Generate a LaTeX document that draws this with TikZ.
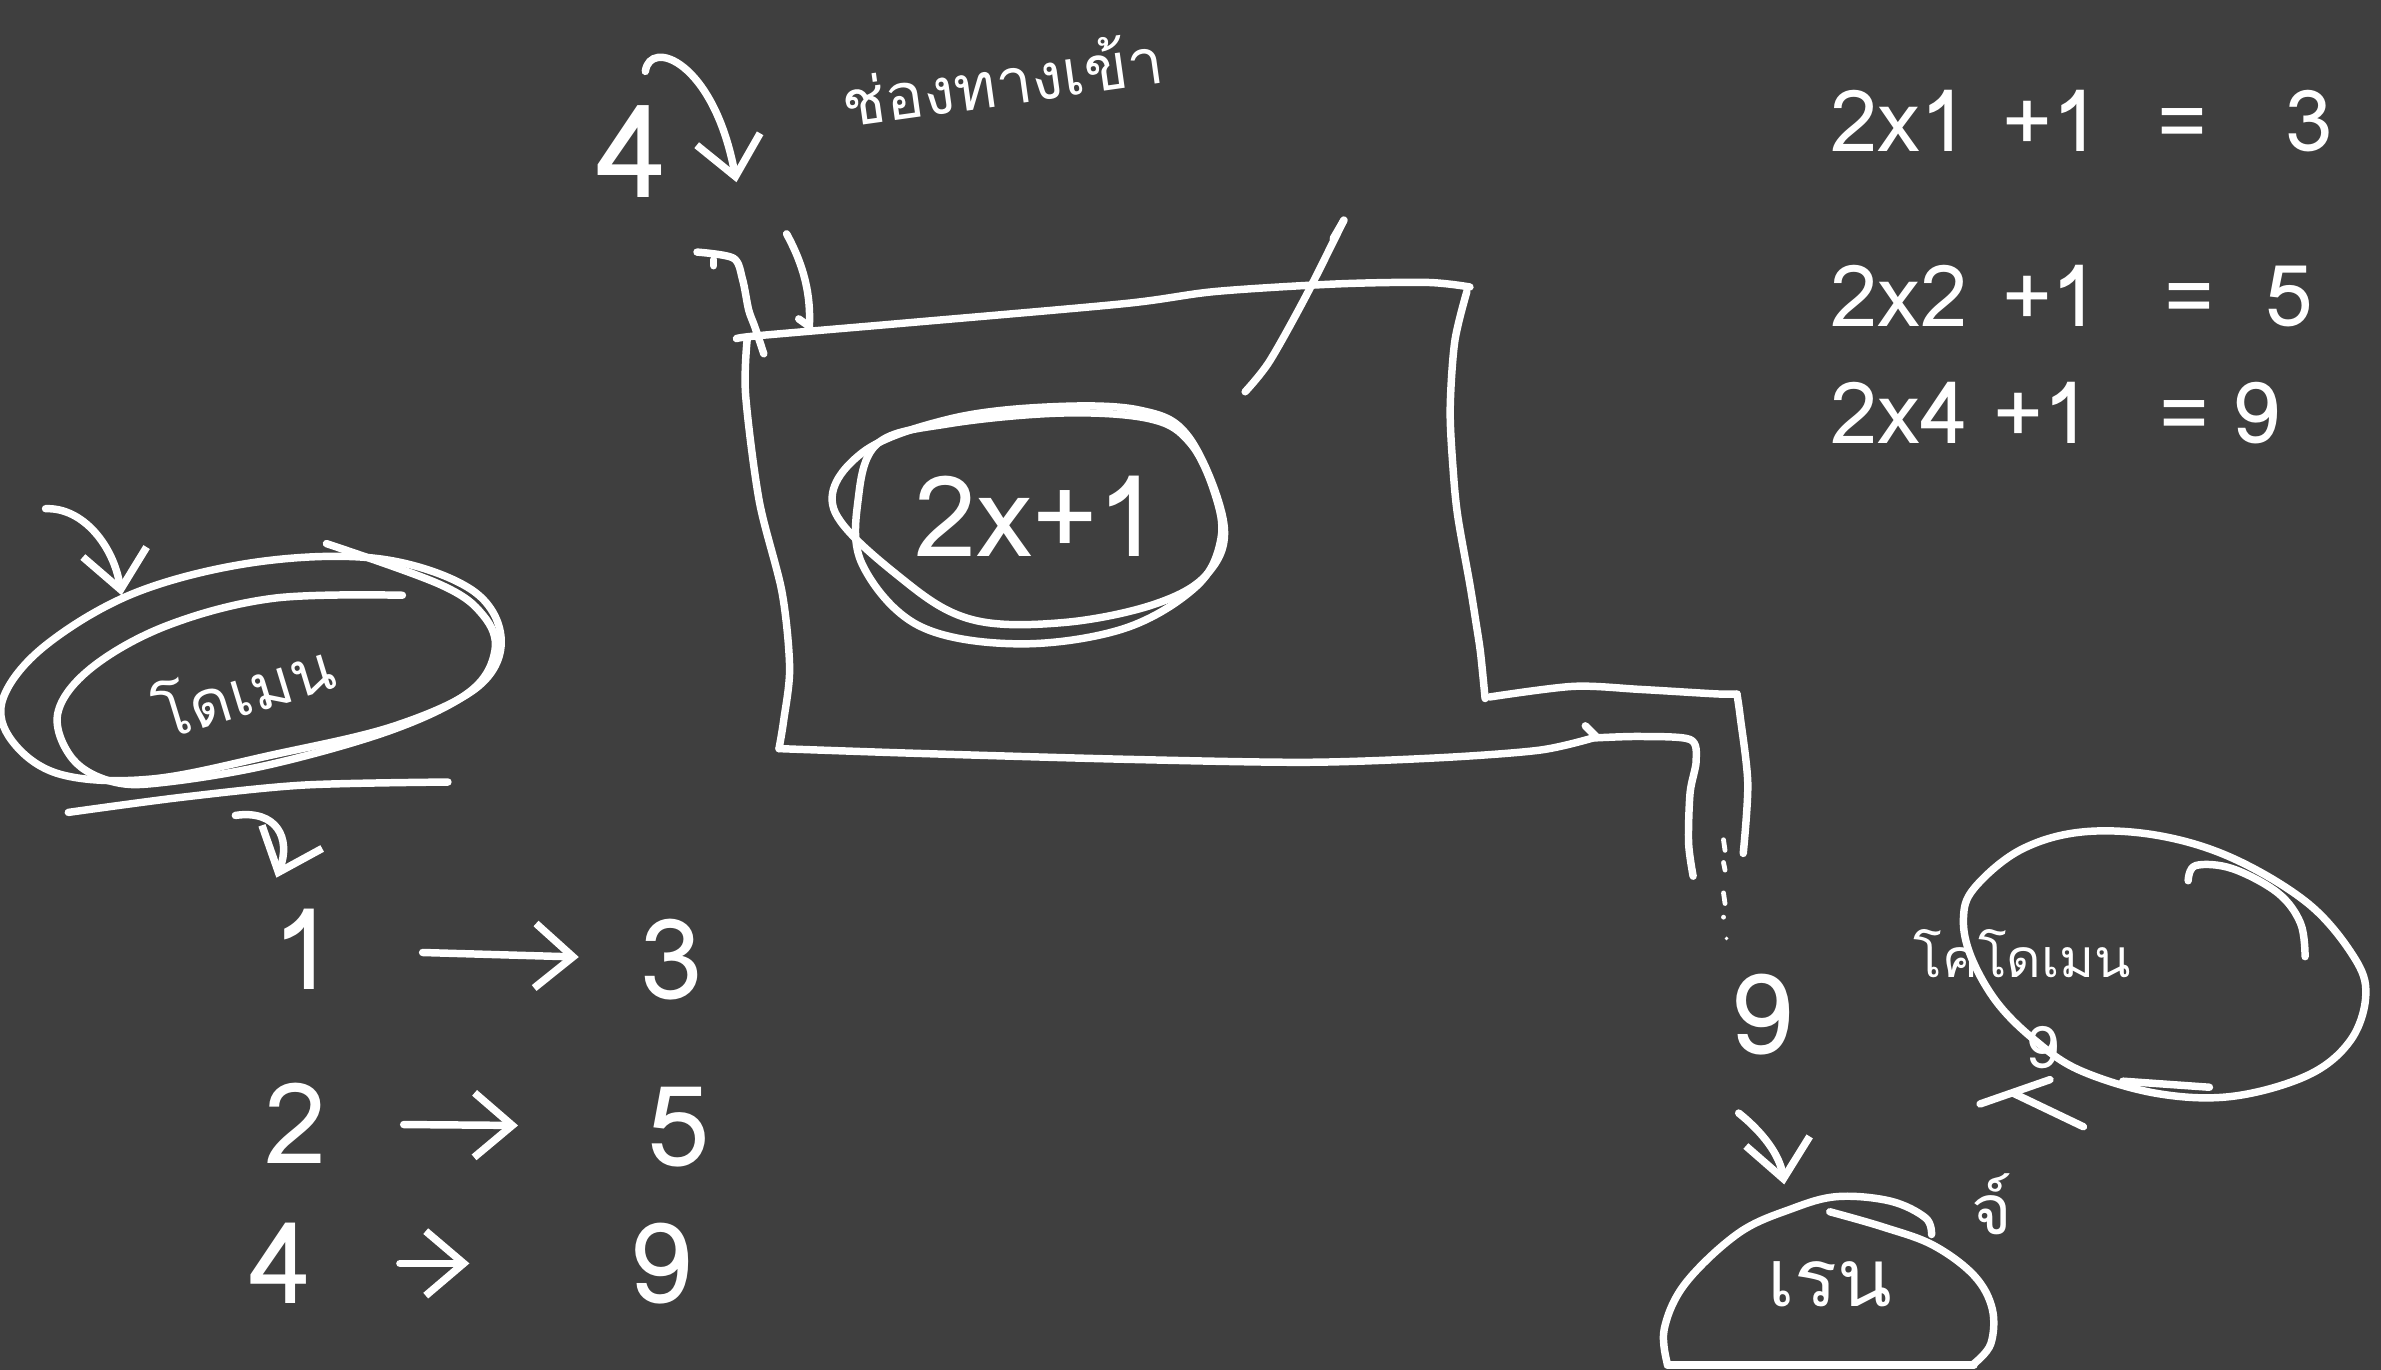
\documentclass[tikz,border=0pt]{standalone}
\usepackage{fontspec}
\setmainfont[Script=Thai]{Loma}
\usetikzlibrary{arrows.meta}
\definecolor{board}{RGB}{63,63,63}
\begin{document}
\begin{tikzpicture}[x=0.02cm,y=-0.02cm,
  ink/.style={draw=white,line width=2.8pt,line cap=round,line join=round},
  thin ink/.style={draw=white,line width=1.8pt,line cap=round,line join=round},
  barb/.style={-{Straight Barb[length=5mm,width=8.5mm]}},
  hand/.style={text=white,inner sep=0pt},
  fbig/.style={font=\fontsize{42}{50}\selectfont},
  feq/.style={font=\fontsize{32}{40}\selectfont},
  fsml/.style={font=\fontsize{26}{32}\selectfont}]
\fill[board] (0,0) rectangle (1568,902);
\useasboundingbox (0,0) rectangle (1568,902);

% ---------- input label and arrow ----------
\node[hand,font=\fontsize{24}{30}\selectfont,rotate=8] (inlbl) at (660,52) {ช่องทางเข้า};
\node[hand,font=\fontsize{48}{56}\selectfont] (four) at (416,100) {4};
\coordinate (a4s) at (425,47);
\coordinate (entry) at (485,120);
\draw[ink,barb] (a4s) .. controls (428,25) and (470,40) .. (entry);

% ---------- machine ----------
\draw[ink] plot[smooth,tension=0.5] coordinates {(485,223) (500,221) (593,213) (740,200) (800,192) (880,187) (940,186) (968,189)};
\draw[ink] plot[smooth,tension=0.5] coordinates {(966,192) (958,225) (955,270) (957,310) (960,340) (968,385) (972,410) (975,430) (978,460)};
\draw[ink] plot[smooth,tension=0.5] coordinates {(981,459) (1036,452) (1080,454) (1131,457) (1144,457)};
\draw[ink] plot[smooth,tension=0.5] coordinates {(1144,458) (1146,472) (1151,516) (1148,562)};
\draw[ink] plot[smooth,tension=0.5] coordinates {(492,224) (491,260) (500,330) (515,390) (520,440) (516,475) (513,493)};
\draw[ink] plot[smooth,tension=0.5] coordinates {(513,493) (600,496) (740,500) (860,502) (948,499) (1014,494) (1049,486)};
\draw[ink] plot[smooth,tension=0.5] coordinates {(1049,486) (1080,485) (1113,487) (1117,501) (1113,522) (1112,555) (1115,577)};
\draw[ink] (1044,478) -- (1051,485);
% entrance strokes
\draw[ink] plot[smooth,tension=0.5] coordinates {(459,166) (483,170) (489,184) (493,204) (497,215) (503,233)};
\draw[ink] (470,171) -- (470,175);
\coordinate (slotA) at (518,154);
\coordinate (slotB) at (533,215);
\draw[ink] (slotA) .. controls (530,176) and (534,195) .. (slotB);
\draw[ink] (526,210) -- (slotB);
% slash on top
\draw[ink] plot[smooth,tension=0.5] coordinates {(820,258) (836,238) (860,195) (885,145)};
\draw[ink] (878,157) -- (885,145);
% falling drops
\foreach \a/\b in {553/560,568/573,588/595}{\draw[thin ink] (1135,\a) -- (1136,\b);}
\fill[white] (1135,604) circle (1.6);
\fill[white] (1137,618) circle (1.3);

% ---------- function in the machine ----------
\node[hand,fbig] (fx) at (683,340) {2x+1};
\draw[ink] plot[smooth cycle,tension=0.6] coordinates {(549,335) (568,298) (625,276) (690,268) (750,270) (783,288) (806,345) (795,378) (760,398) (700,410) (640,408) (595,382)};
\draw[ink] plot[smooth cycle,tension=0.6] coordinates {(565,330) (578,292) (625,279) (700,272) (758,276) (784,292) (800,325) (804,355) (788,386) (740,414) (670,424) (605,412) (568,372)};

% ---------- domain ----------
\node[hand,font=\fontsize{24}{30}\selectfont,rotate=17] (dom) at (160,452) {โดเมน};
\draw[ink] plot[smooth cycle,tension=0.6] coordinates {(2,460) (30,425) (90,390) (170,370) (250,368) (310,388) (330,420) (315,452) (260,478) (180,497) (100,513) (40,510) (8,488)};
\draw[ink] plot[smooth,tension=0.6] coordinates {(265,392) (180,394) (110,412) (60,440) (38,470) (48,500) (75,515) (110,515) (180,503) (260,480) (310,455) (326,428) (318,405) (290,385) (215,358)};
\draw[ink] plot[smooth,tension=0.5] coordinates {(45,535) (120,525) (200,517) (295,515)};
\coordinate (domin) at (30,335);
\coordinate (domtip) at (80,392);
\draw[ink,barb] (domin) .. controls (55,334) and (75,360) .. (domtip);
\coordinate (domout) at (155,537);
\coordinate (listtop) at (182,578);
\draw[ink,barb] (domout) .. controls (182,533) and (192,552) .. (listtop);

% ---------- mapping list ----------
\node[hand,fbig] (x1) at (200,625) {1};
\node[hand,fbig] (y1) at (442,632) {3};
\draw[ink,barb,shorten <=1.15cm,shorten >=0.8cm] (x1) -- (y1);
\node[hand,fbig] (x2) at (195,740) {2};
\node[hand,fbig] (y2) at (447,742) {5};
\draw[ink,barb,shorten <=1.0cm,shorten >=1.7cm] (x2) -- (y2);
\node[hand,fbig] (x3) at (185,832) {4};
\node[hand,fbig] (y3) at (435,832) {9};
\draw[ink,barb,shorten <=1.15cm,shorten >=2.1cm] (x3) -- (y3);

% ---------- equations ----------
\node[hand,feq,anchor=west] (eq1) at (1205,80) {2x1\hspace{0.41em}+1\hspace{0.67em}=\hspace{0.92em}3};
\node[hand,feq,anchor=west] (eq2) at (1205,195) {2x2\hspace{0.4em}+1\hspace{0.76em}=\hspace{0.6em}5};
\node[hand,feq,anchor=west] (eq3) at (1205,272) {2x4\hspace{0.3em}+1\hspace{0.8em}=\hspace{0.27em}9};

% ---------- codomain ----------
\node[hand,font=\fontsize{20}{26}\selectfont] (codom) at (1332,628) {โคโดเมน};
\draw[ink] plot[smooth cycle,tension=0.6] coordinates {(1293,605) (1300,585) (1330,560) (1370,548) (1420,550) (1470,565) (1520,595) (1550,630) (1558,655) (1548,685) (1520,708) (1470,722) (1420,720) (1370,705) (1340,685) (1315,660) (1298,630)};
\draw[ink] plot[smooth,tension=0.6] coordinates {(1441,580) (1446,570) (1470,572) (1500,588) (1515,608) (1518,630)};
\draw[ink] (1398,712) -- (1455,716);
\node[hand,font=\fontsize{22}{26}\selectfont] (c9) at (1345,690) {9};
\draw[ink] (1350,711) -- (1304,727);
\draw[ink] (1326,720) -- (1372,742);

% ---------- output and range ----------
\node[hand,fbig] (out9) at (1160,668) {9};
\coordinate (o9a) at (1145,733);
\coordinate (rngtip) at (1175,780);
\draw[ink,barb] (o9a) .. controls (1160,745) and (1172,760) .. (rngtip);
\node[hand,font=\fontsize{30}{36}\selectfont] (rng) at (1205,846) {เรน};
\node[hand,fsml] (rng2) at (1312,793) {จ์};
\draw[ink] plot[smooth,tension=0.6] coordinates {(1098,898) (1096,875) (1110,845) (1145,812) (1180,796) (1210,788) (1245,791) (1268,802) (1272,813)};
\draw[ink] plot[smooth,tension=0.6] coordinates {(1205,798) (1240,808) (1273,820) (1300,840) (1312,862) (1311,885) (1300,898)};
\draw[ink] (1098,899) -- (1300,899);
\end{tikzpicture}
\end{document}
